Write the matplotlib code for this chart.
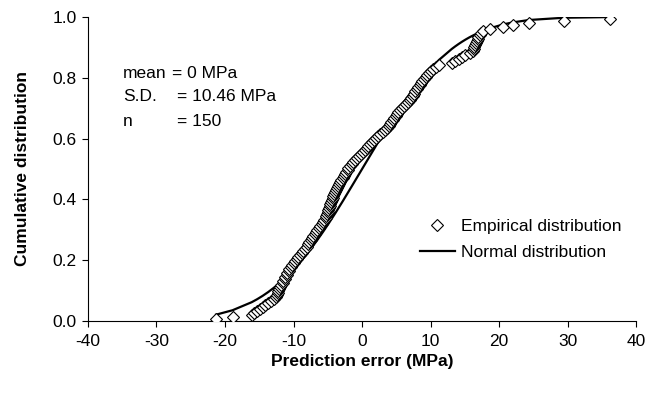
import math
import matplotlib
matplotlib.use("Agg")
import matplotlib.pyplot as plt
from matplotlib.ticker import FormatStrFormatter

plt.rcParams['font.family'] = ['Liberation Sans', 'DejaVu Sans']
plt.rcParams['axes.unicode_minus'] = False

# Sorted prediction errors (MPa) (n = 150)
errors = [
    -21.3, -18.9,
    -16.1, -15.7, -15.3, -14.9, -14.5, -14.1, -13.7, -13.3, -12.9, -12.5,
    -12.4, -12.3, -12.2, -12.1, -12.0,
    -11.8, -11.6, -11.5, -11.3, -11.2, -11.0, -10.9, -10.7, -10.6, -10.4, -10.2, -10.0, -9.8,
    -9.5, -9.3, -9.0, -8.8, -8.6, -8.3, -8.1, -7.9, -7.7,
    -7.5, -7.3, -7.1, -6.9, -6.7, -6.5, -6.3, -6.1, -5.9, -5.7, -5.5, -5.3,
    -5.2, -5.1, -5.0, -4.9,
    -4.8, -4.7, -4.6, -4.5, -4.4, -4.3, -4.2, -4.1,
    -3.9, -3.8, -3.7, -3.5, -3.4, -3.2,
    -3.0, -2.8, -2.6, -2.5, -2.3, -2.1, -2.0, -1.8,
    -1.5, -1.3, -1.0,
    -0.7, -0.4, -0.1, 0.2, 0.4, 0.7,
    0.9, 1.2,
    1.5, 1.8, 2.1, 2.4, 2.7, 3.0, 3.3, 3.6, 3.9, 4.1,
    4.3, 4.5, 4.7, 4.9, 5.1, 5.3, 5.5,
    5.8, 6.1, 6.4, 6.7, 7.0,
    7.2, 7.4, 7.6,
    7.8, 8.0, 8.2, 8.4, 8.6, 8.8, 9.0, 9.3, 9.5, 9.8, 10.1, 10.4, 10.8,
    11.3,
    13.1, 13.6, 14.1, 14.6, 15.1, 15.7, 16.2,
    16.3, 16.4, 16.5, 16.6, 16.8, 16.9, 17.0, 17.2, 17.4,
    17.6, 18.7, 20.6, 22.0, 24.4, 29.5, 36.2,
]
mean_mpa = 0.0
sd_mpa = 10.46
n_obs = 150

x_ticks = [-40, -30, -20, -10, 0, 10, 20, 30, 40]
y_ticks = [0.0, 0.2, 0.4, 0.6, 0.8, 1.0]

# empirical cumulative probability by rank, normal CDF at the same errors
emp_cdf = [(i + 1) / (n_obs + 1) for i in range(len(errors))]
norm_cdf = [0.5 * (1 + math.erf((e - mean_mpa) / (sd_mpa * math.sqrt(2)))) for e in errors]

fig = plt.figure(figsize=(6.67, 3.95), dpi=100)
ax = fig.add_axes([88 / 667, 1 - 321 / 395, (636 - 88) / 667, (321 - 17) / 395])

ax.plot(errors, norm_cdf, color='black', lw=1.6, zorder=2, label='Normal distribution')
ax.plot(errors, emp_cdf, linestyle='none', marker='D', ms=5.8, mfc='white',
        mec='black', mew=0.8, zorder=3, label='Empirical distribution')

ax.set_xlim(-40, 40)
ax.set_ylim(0, 1.0)
ax.set_xticks(x_ticks)
ax.set_yticks(y_ticks)
ax.yaxis.set_major_formatter(FormatStrFormatter('%.1f'))
ax.tick_params(direction='out', length=4, width=0.8, labelsize=12.5, colors='black')
ax.tick_params(axis='x', pad=5)
ax.tick_params(axis='y', pad=4)
for s in ['top', 'right']:
    ax.spines[s].set_visible(False)
for s in ['left', 'bottom']:
    ax.spines[s].set_linewidth(0.8)

ax.set_xlabel('Prediction error (MPa)', fontsize=12.5, fontweight='bold', labelpad=4)
ax.set_ylabel('Cumulative distribution', fontsize=12.5, fontweight='bold', labelpad=16)

# stats annotation
tx0 = (123 - 88) / 548 * 80 - 40
tx1 = (172 - 88) / 548 * 80 - 40
tx2 = (177 - 88) / 548 * 80 - 40
rows = [(0.815, 'mean', '= 0 MPa', tx1), (0.737, 'S.D.', '= 10.46 MPa', tx2), (0.655, 'n', '= 150', tx2)]
for yv, lab, val, xv in rows:
    ax.text(tx0, yv, lab, fontsize=12.5, va='center', ha='left')
    ax.text(xv, yv, val, fontsize=12.5, va='center', ha='left')

handles, labels = ax.get_legend_handles_labels()
leg = ax.legend(handles[::-1], labels[::-1], loc='upper left',
                bbox_to_anchor=((420 - 88) / 548, 1 - (219 - 17) / 304),
                frameon=False, fontsize=12.5, handlelength=2.0, handletextpad=0.35,
                labelspacing=0.6, borderpad=0, borderaxespad=0, numpoints=1)

fig.savefig('out.png', dpi=100)
